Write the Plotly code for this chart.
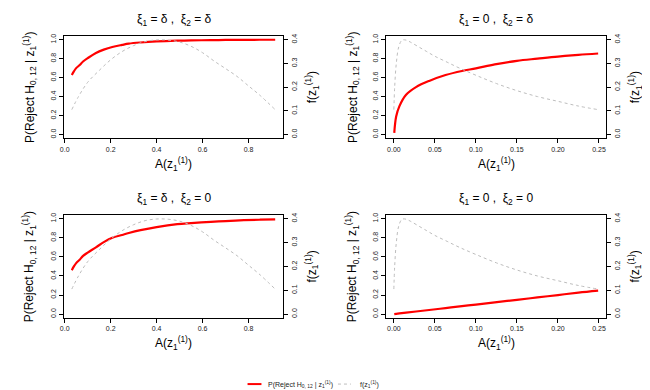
import plotly.graph_objects as go

# ---------------- data ----------------
# left-column panels: xi1 = delta
A_left_red = [0.031, 0.04, 0.05, 0.064, 0.08, 0.1, 0.136, 0.17, 0.207, 0.25, 0.279, 0.33, 0.4, 0.49, 0.55, 0.636, 0.7, 0.78, 0.85, 0.916]
p_top_left = [0.627, 0.665, 0.70, 0.73, 0.77, 0.805, 0.86, 0.895, 0.923, 0.945, 0.958, 0.97, 0.981, 0.989, 0.992, 0.995, 0.997, 0.998, 0.999, 0.999]
p_bot_left = [0.46, 0.50, 0.535, 0.568, 0.61, 0.645, 0.70, 0.755, 0.80, 0.83, 0.85, 0.88, 0.913, 0.944, 0.955, 0.968, 0.976, 0.985, 0.99, 0.993]

A_left_f = [0.031, 0.06, 0.1, 0.15, 0.2, 0.25, 0.3, 0.35, 0.4, 0.45, 0.5, 0.55, 0.6, 0.65, 0.7, 0.75, 0.8, 0.85, 0.916]
f_left = [0.105, 0.16, 0.22, 0.27, 0.315, 0.35, 0.375, 0.392, 0.399, 0.398, 0.39, 0.372, 0.345, 0.31, 0.278, 0.245, 0.205, 0.165, 0.105]

# right-column panels: xi1 = 0
A_right_red = [0.0005, 0.0028, 0.0068, 0.0149, 0.027, 0.043, 0.063, 0.083, 0.1, 0.123, 0.15, 0.175, 0.2, 0.225, 0.249]
p_top_right = [0.017, 0.19, 0.30, 0.42, 0.50, 0.565, 0.627, 0.67, 0.697, 0.739, 0.777, 0.80, 0.822, 0.84, 0.854]
p_bot_right = [0.0005, 0.0028, 0.0068, 0.0149, 0.027, 0.043, 0.063, 0.083, 0.1, 0.123, 0.15, 0.175, 0.2, 0.225, 0.246]

A_right_f = [0.0, 0.001, 0.003, 0.006, 0.01, 0.015, 0.02, 0.03, 0.04, 0.05, 0.065, 0.08, 0.1, 0.125, 0.15, 0.175, 0.2, 0.225, 0.249]
f_right = [0.105, 0.2, 0.3, 0.37, 0.398, 0.398, 0.39, 0.37, 0.35, 0.33, 0.305, 0.28, 0.25, 0.215, 0.185, 0.16, 0.14, 0.12, 0.105]

panel_titles = ["ξ<sub>1</sub> = δ ,  ξ<sub>2</sub> = δ", "ξ<sub>1</sub> = 0 ,  ξ<sub>2</sub> = δ",
                "ξ<sub>1</sub> = δ ,  ξ<sub>2</sub> = 0", "ξ<sub>1</sub> = 0 ,  ξ<sub>2</sub> = 0"]
left_x_ticks = [0.0, 0.2, 0.4, 0.6, 0.8]
left_x_labels = ["0.0", "0.2", "0.4", "0.6", "0.8"]
right_x_ticks = [0.0, 0.05, 0.10, 0.15, 0.20, 0.25]
right_x_labels = ["0.00", "0.05", "0.10", "0.15", "0.20", "0.25"]
p_ticks = [0.0, 0.2, 0.4, 0.6, 0.8, 1.0]
p_labels = ["0.0", "0.2", "0.4", "0.6", "0.8", "1.0"]
f_ticks = [0.0, 0.1, 0.2, 0.3, 0.4]
f_labels = ["0.0", "0.1", "0.2", "0.3", "0.4"]

x_title = "A(z<sub>1</sub><sup>(1)</sup>)"
y_title = "P(Reject H<sub>0, 12</sub> | z<sub>1</sub><sup>(1)</sup>)"
y2_title = "f(z<sub>1</sub><sup>(1)</sup>)"
legend_red = "P(Reject H<sub>0, 12</sub> | z<sub>1</sub><sup>(1)</sup>)"
legend_f = "f(z<sub>1</sub><sup>(1)</sup>)"

# ---------------- figure ----------------
W, H = 650, 390
FONT = "Liberation Sans, Arial, sans-serif"
RED = "#ff0000"
GRAY = "#bdbdbd"

panels = [
    dict(A_red=A_left_red, p=p_top_left, A_f=A_left_f, f=f_left, xr=[-0.0044, 0.9514],
         xt=left_x_ticks, xl=left_x_labels, px=(52, 273), py=(26, 129), ylx=18, y2lx=302, xly=155, tly=10),
    dict(A_red=A_right_red, p=p_top_right, A_f=A_right_f, f=f_right, xr=[-0.00996, 0.25896],
         xt=right_x_ticks, xl=right_x_labels, px=(376, 598), py=(26, 129), ylx=343, y2lx=627, xly=155, tly=10),
    dict(A_red=A_left_red, p=p_bot_left, A_f=A_left_f, f=f_left, xr=[-0.0044, 0.9514],
         xt=left_x_ticks, xl=left_x_labels, px=(52, 273), py=(206, 309.5), ylx=18, y2lx=302, xly=335, tly=190),
    dict(A_red=A_right_red, p=p_bot_right, A_f=A_right_f, f=f_right, xr=[-0.00996, 0.25896],
         xt=right_x_ticks, xl=right_x_labels, px=(376, 598), py=(206, 309.5), ylx=343, y2lx=627, xly=335, tly=190),
]

fig = go.Figure()
layout = dict(width=W, height=H, margin=dict(l=0, r=0, t=0, b=0),
              paper_bgcolor="white", plot_bgcolor="white", showlegend=False,
              font=dict(family=FONT, color="black"))
annotations = []
shapes = []

tickfont = dict(family=FONT, size=7, color="#222222")
titlefont = dict(family=FONT, size=12, color="black")

for i, pn in enumerate(panels):
    k = i + 1
    xa = f"x{'' if k == 1 else k}"
    ya = f"y{2*k-1 if k > 1 else ''}"
    yb = f"y{2*k}"
    xname = "xaxis" + ("" if k == 1 else str(k))
    yname = "yaxis" + ("" if k == 1 else str(2*k-1))
    y2name = "yaxis" + str(2*k)
    dx = [pn["px"][0] / W, pn["px"][1] / W]
    dy = [1 - pn["py"][1] / H, 1 - pn["py"][0] / H]

    fig.add_trace(go.Scatter(x=pn["A_f"], y=pn["f"], xaxis=xa, yaxis=yb, mode="lines",
                             line=dict(color=GRAY, width=1, dash="3px,3px", shape="spline"),
                             name="f", hoverinfo="skip"))
    fig.add_trace(go.Scatter(x=pn["A_red"], y=pn["p"], xaxis=xa, yaxis=ya, mode="lines",
                             line=dict(color=RED, width=2.2, shape="spline"),
                             name="P", hoverinfo="skip"))

    layout[xname] = dict(domain=dx, range=pn["xr"], anchor=ya, showgrid=False, zeroline=False,
                         showline=True, linecolor="black", linewidth=1, mirror=True,
                         ticks="outside", ticklen=4, tickcolor="black",
                         tickvals=pn["xt"], ticktext=pn["xl"], tickfont=tickfont)
    layout[yname] = dict(domain=dy, range=[-0.04, 1.04], anchor=xa, showgrid=False, zeroline=False,
                         showline=True, linecolor="black", linewidth=1,
                         ticks="outside", ticklen=4, tickcolor="black",
                         tickvals=p_ticks, ticktext=p_labels, tickfont=tickfont, tickangle=-90)
    layout[y2name] = dict(domain=dy, range=[-0.016, 0.416], anchor=xa, overlaying=ya, side="right",
                          showgrid=False, zeroline=False,
                          showline=True, linecolor="black", linewidth=1,
                          ticks="outside", ticklen=4, tickcolor="black",
                          tickvals=f_ticks, ticktext=f_labels, tickfont=tickfont, tickangle=-90)
    ymid = 1 - (pn["py"][0] + pn["py"][1]) / 2 / H
    xmid = (dx[0] + dx[1]) / 2
    annotations += [
        dict(text=panel_titles[i], xref="paper", yref="paper", x=xmid, y=1 - pn["tly"] / H,
             xanchor="center", yanchor="middle", showarrow=False,
             font=dict(family=FONT, size=12, color="black")),
        dict(text=x_title, xref="paper", yref="paper", x=xmid, y=1 - pn["xly"] / H,
             xanchor="center", yanchor="middle", showarrow=False, font=titlefont),
        dict(text=y_title, xref="paper", yref="paper", x=pn["ylx"] / W, y=ymid, textangle=-90,
             xanchor="center", yanchor="middle", showarrow=False, font=titlefont),
        dict(text=y2_title, xref="paper", yref="paper", x=pn["y2lx"] / W, y=ymid, textangle=-90,
             xanchor="center", yanchor="middle", showarrow=False, font=titlefont),
    ]

# manual legend at the bottom
ly = 1 - 376 / H
shapes.append(dict(type="line", xref="paper", yref="paper", x0=237 / W, x1=251 / W, y0=ly, y1=ly,
                   line=dict(color=RED, width=2)))
shapes.append(dict(type="line", xref="paper", yref="paper", x0=328 / W, x1=341 / W, y0=ly, y1=ly,
                   line=dict(color=GRAY, width=1, dash="3px,3px")))
annotations.append(dict(text=legend_red, xref="paper", yref="paper", x=256 / W, y=ly,
                        xanchor="left", yanchor="middle", showarrow=False,
                        font=dict(family=FONT, size=7, color="#222222")))
annotations.append(dict(text=legend_f, xref="paper", yref="paper", x=348 / W, y=ly,
                        xanchor="left", yanchor="middle", showarrow=False,
                        font=dict(family=FONT, size=7, color="#222222")))

layout["annotations"] = annotations
layout["shapes"] = shapes
fig.update_layout(**layout)
fig.write_html("out.html")
